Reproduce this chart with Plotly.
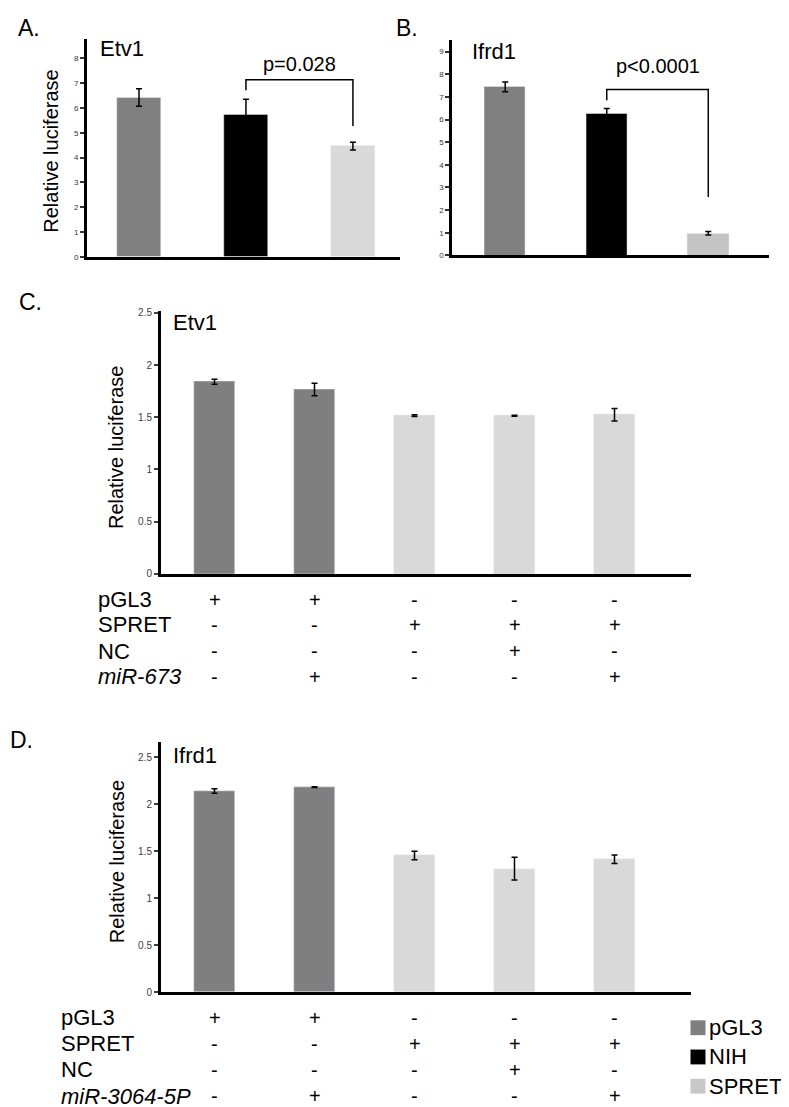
import plotly.graph_objects as go

# ---------------- data ----------------
ab_categories = ["pGL3", "NIH", "SPRET"]
a_values = [6.42, 5.72, 4.46]
a_errors = [0.35, 0.63, 0.16]
a_colors = ["#808080", "#000000", "#d9d9d9"]
a_pvalue = "p=0.028"
a_bracket_y = [6.71, 7.14, 5.27]   # left foot, top, right foot

b_values = [7.44, 6.24, 0.98]
b_errors = [0.22, 0.25, 0.08]
b_colors = ["#808080", "#000000", "#c4c4c4"]
b_pvalue = "p<0.0001"
b_bracket_y = [6.85, 7.32, 2.58]

c_categories = ["pGL3", "pGL3 + miR-673", "SPRET", "SPRET + NC", "SPRET + miR-673"]
c_values = [1.84, 1.765, 1.515, 1.515, 1.525]
c_errors = [0.025, 0.06, 0.008, 0.005, 0.06]

d_categories = ["pGL3", "pGL3 + miR-3064-5P", "SPRET", "SPRET + NC", "SPRET + miR-3064-5P"]
d_values = [2.14, 2.18, 1.455, 1.315, 1.415]
d_errors = [0.025, 0.004, 0.045, 0.12, 0.045]

cd_colors = ["#7f7f7f", "#7f7f7f", "#d9d9d9", "#d9d9d9", "#d9d9d9"]

c_rows = ["pGL3", "SPRET", "NC", "<i>miR-673</i>"]
d_rows = ["pGL3", "SPRET", "NC", "<i>miR-3064-5P</i>"]
signs = [
    ["+", "+", "-", "-", "-"],
    ["-", "-", "+", "+", "+"],
    ["-", "-", "-", "+", "-"],
    ["-", "+", "-", "-", "+"],
]

legend_labels = ["pGL3", "NIH", "SPRET"]
legend_colors = ["#7f7f7f", "#000000", "#c8c8c8"]

cd_ticks = [0, 0.5, 1, 1.5, 2, 2.5]
cd_ticktext = ["0", "0.5", "1", "1.5", "2", "2.5"]

# ---------------- layout helpers ----------------
W, H = 789, 1107
FONT = "Liberation Sans, Arial, sans-serif"


def px(x):
    return x / W


def py(y):
    return 1 - y / H


fig = go.Figure()

err_style = dict(type="data", color="black", thickness=1.5, width=3)

fig.add_trace(go.Bar(x=ab_categories, y=a_values, marker_color=a_colors, width=0.405,
                     error_y=dict(array=a_errors, **err_style), xaxis="x", yaxis="y",
                     showlegend=False))
fig.add_trace(go.Bar(x=ab_categories, y=b_values, marker_color=b_colors, width=0.405,
                     error_y=dict(array=b_errors, **err_style), xaxis="x2", yaxis="y2",
                     showlegend=False))
fig.add_trace(go.Bar(x=c_categories, y=c_values, marker_color=cd_colors, width=0.405,
                     error_y=dict(array=c_errors, **err_style), xaxis="x3", yaxis="y3",
                     showlegend=False))
fig.add_trace(go.Bar(x=d_categories, y=d_values, marker_color=cd_colors, width=0.41,
                     error_y=dict(array=d_errors, **err_style), xaxis="x4", yaxis="y4",
                     showlegend=False))

# significance brackets
fig.add_trace(go.Scatter(x=[ab_categories[1], ab_categories[1], ab_categories[2], ab_categories[2]],
                         y=[a_bracket_y[0], a_bracket_y[1], a_bracket_y[1], a_bracket_y[2]],
                         mode="lines", line=dict(color="black", width=1.5),
                         xaxis="x", yaxis="y", showlegend=False, hoverinfo="skip"))
fig.add_trace(go.Scatter(x=[ab_categories[1], ab_categories[1], ab_categories[2], ab_categories[2]],
                         y=[b_bracket_y[0], b_bracket_y[1], b_bracket_y[1], b_bracket_y[2]],
                         mode="lines", line=dict(color="black", width=1.5),
                         xaxis="x2", yaxis="y2", showlegend=False, hoverinfo="skip"))


def xax(dom, rng, anchor):
    return dict(domain=[px(dom[0]), px(dom[1])], range=rng, type="category", anchor=anchor,
                showline=True, linewidth=3, linecolor="black", showticklabels=False,
                ticks="", showgrid=False, zeroline=False)


def yax(dom, rng, anchor, tickvals, ticktext, size, color):
    return dict(domain=[py(dom[1]), py(dom[0])], range=rng, anchor=anchor,
                showline=True, linewidth=3, linecolor="black", ticks="outside",
                ticklen=4, tickwidth=1.5, tickcolor=color, tickvals=tickvals, ticktext=ticktext,
                tickfont=dict(family=FONT, size=size, color=color), showgrid=False,
                zeroline=False)


a_ticks = list(range(0, 9))
b_ticks = list(range(0, 10))

fig.update_layout(
    width=W, height=H, margin=dict(l=0, r=0, t=0, b=0),
    paper_bgcolor="white", plot_bgcolor="white", bargap=0,
    font=dict(family=FONT, color="black"),
    xaxis=xax((79, 392), [-0.486, 2.44], "y"),
    yaxis=yax((27, 247), [0, 8.79], "x", a_ticks, [str(t) for t in a_ticks], 8, "#333333"),
    xaxis2=xax((444.3, 761), [-0.521, 2.598], "y2"),
    yaxis2=yax((28, 245.7), [0, 9.52], "x2", b_ticks, [str(t) for t in b_ticks], 8, "#333333"),
    xaxis3=xax((153, 682.5), [-0.535, 4.76], "y3"),
    yaxis3=yax((302, 567), [0, 2.515], "x3", cd_ticks, cd_ticktext, 10, "#404040"),
    xaxis4=xax((153, 682.5), [-0.535, 4.76], "y4"),
    yaxis4=yax((736.7, 989.3), [0, 2.66], "x4", cd_ticks, cd_ticktext, 10, "#404040"),
)

ann = []


def text(x, y, t, size, xanchor="left", angle=0):
    ann.append(dict(x=px(x), y=py(y), xref="paper", yref="paper", text=t, showarrow=False,
                    xanchor=xanchor, yanchor="middle", textangle=angle, borderpad=0,
                    font=dict(family=FONT, size=size, color="black")))


# panel letters
text(9, 16, "A.", 23)
text(387, 16, "B.", 23)
text(10, 293, "C.", 23)
text(1, 735, "D.", 23)

# gene names
text(91, 37, "Etv1", 22)
text(463, 40, "Ifrd1", 22)
text(164, 313, "Etv1", 22)
text(164, 750, "Ifrd1", 22)

# y titles
text(43, 141, "Relative luciferase", 20, "center", -90)
text(108, 440, "Relative luciferase", 20, "center", -90)
text(109, 858, "Relative luciferase", 20, "center", -90)

# p-values
ann.append(dict(x=1.5, y=7.79, xref="x", yref="y", text=a_pvalue, showarrow=False,
                xanchor="center", yanchor="middle", font=dict(family=FONT, size=20, color="black")))
ann.append(dict(x=1.5, y=8.34, xref="x2", yref="y2", text=b_pvalue, showarrow=False,
                xanchor="center", yanchor="middle", font=dict(family=FONT, size=20, color="black")))


def table(rows, cats, xref, label_x, row_y):
    for i, lab in enumerate(rows):
        text(label_x, row_y[i], lab, 22)
        for j, c in enumerate(cats):
            ann.append(dict(x=c, y=py(row_y[i]), xref=xref, yref="paper", text=signs[i][j],
                            showarrow=False, xanchor="center", yanchor="middle",
                            font=dict(family=FONT, size=20, color="black")))


table(c_rows, c_categories, "x3", 89, [593, 618.5, 645, 671])
table(d_rows, d_categories, "x4", 52, [1015, 1041, 1067.5, 1094])

# legend
shapes = []
for i, (lab, col) in enumerate(zip(legend_labels, legend_colors)):
    cy = 1025 + i * 29.5
    shapes.append(dict(type="rect", xref="paper", yref="paper", x0=px(682.5), x1=px(697.5),
                       y0=py(cy + 7.5), y1=py(cy - 7.5), fillcolor=col, line=dict(width=0)))
    text(700, cy, lab, 22)

fig.update_layout(annotations=ann, shapes=shapes)
fig.write_html("out.html")
